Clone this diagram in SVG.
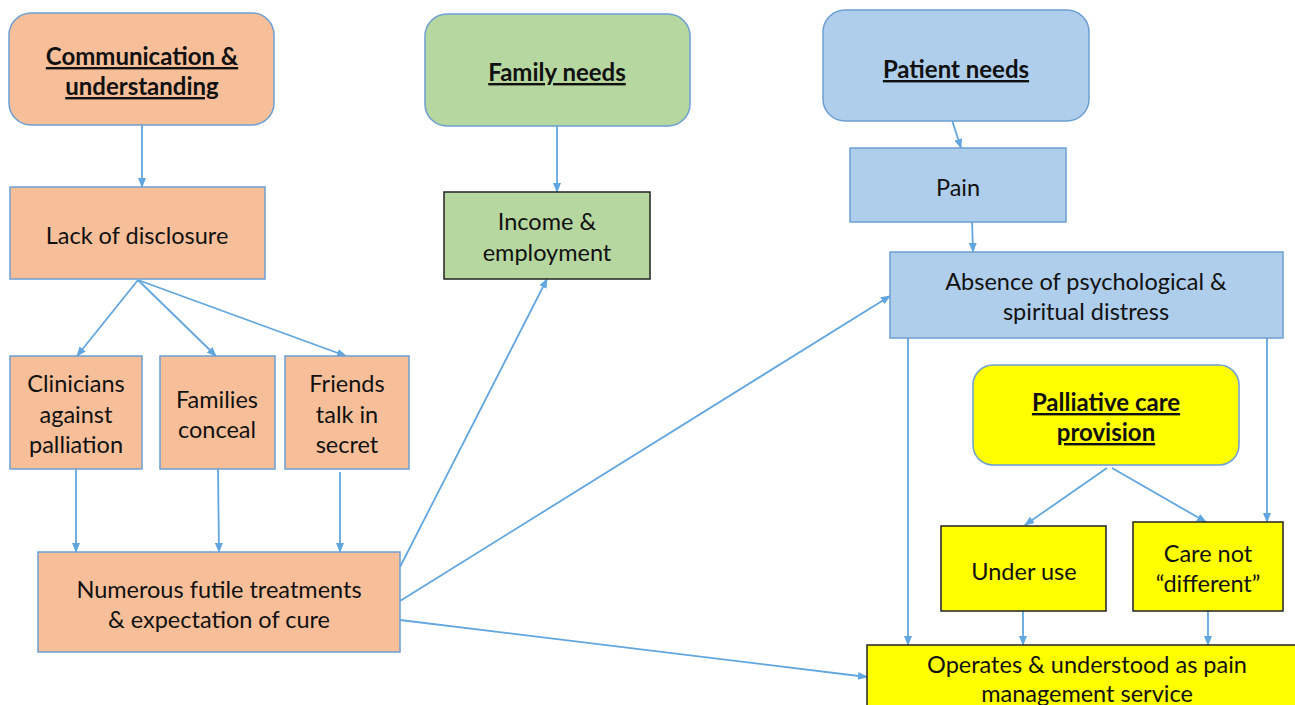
<svg xmlns="http://www.w3.org/2000/svg" width="1295" height="705" viewBox="0 0 1295 705">
<defs>
<marker id="ah" markerWidth="10" markerHeight="8" refX="9" refY="4" orient="auto" markerUnits="userSpaceOnUse">
<path d="M0,0 L10,4 L0,8 Z" fill="#62A6DF"/>
</marker>
<style>
.t{font-family:Lato,"Open Sans","Liberation Sans",sans-serif;font-size:23.5px;fill:#111;text-anchor:middle}
.h{font-weight:bold;text-decoration:underline;font-size:24px}
.or{fill:#F7BF99;stroke:#6E9FD2;stroke-width:1.5}
.gr{fill:#B7D7A0}
.bl{fill:#AFCEEB;stroke:#6E9FD2;stroke-width:1.5}
.ye{fill:#FFFF00}
.dk{stroke:#222;stroke-width:1.5}
.bs{stroke:#6E9FD2;stroke-width:1.5}
.c{stroke:#62A6DF;stroke-width:1.8;fill:none;marker-end:url(#ah)}
</style>
</defs>
<rect width="1295" height="705" fill="#fff"/>
<g id="connectors">
<line class="c" x1="142" y1="125" x2="142" y2="187"/>
<line class="c" x1="138" y1="280" x2="77" y2="356"/>
<line class="c" x1="138" y1="280" x2="216" y2="356"/>
<line class="c" x1="138" y1="280" x2="346" y2="356"/>
<line class="c" x1="76" y1="469" x2="76" y2="552"/>
<line class="c" x1="218" y1="469" x2="219" y2="552"/>
<line class="c" x1="340" y1="472" x2="340" y2="552"/>
<line class="c" x1="557" y1="126" x2="557" y2="192"/>
<line class="c" x1="400" y1="567" x2="547" y2="279"/>
<line class="c" x1="951" y1="117" x2="961" y2="148"/>
<line class="c" x1="972" y1="220" x2="973" y2="252"/>
<line class="c" x1="400" y1="601" x2="890" y2="296"/>
<line class="c" x1="400" y1="620" x2="867" y2="677"/>
<line class="c" x1="908" y1="338" x2="908" y2="645"/>
<line class="c" x1="1267" y1="338" x2="1267" y2="522"/>
<line class="c" x1="1107" y1="468" x2="1025" y2="525"/>
<line class="c" x1="1112" y1="468" x2="1206" y2="522"/>
<line class="c" x1="1023" y1="611" x2="1023" y2="645"/>
<line class="c" x1="1208" y1="611" x2="1208" y2="645"/>
</g>
<g id="n-comm"><rect class="or" x="9" y="13" width="265" height="112" rx="22"/>
<text class="t h" x="142" y="65">Communication &amp;</text><text class="t h" x="142" y="95">understanding</text></g>
<g id="n-lack"><rect class="or" x="10" y="187" width="255" height="92"/>
<text class="t" x="137" y="244">Lack of disclosure</text></g>
<g id="n-clin"><rect class="or" x="10" y="356" width="132" height="113"/>
<text class="t" x="76" y="392">Clinicians</text><text class="t" x="76" y="423">against</text><text class="t" x="76" y="453">palliation</text></g>
<g id="n-fam"><rect class="or" x="160" y="356" width="115" height="113"/>
<text class="t" x="217" y="408">Families</text><text class="t" x="217" y="438">conceal</text></g>
<g id="n-friends"><rect class="or" x="285" y="356" width="124" height="113"/>
<text class="t" x="347" y="392">Friends</text><text class="t" x="347" y="423">talk in</text><text class="t" x="347" y="453">secret</text></g>
<g id="n-num"><rect class="or" x="38" y="552" width="362" height="100"/>
<text class="t" x="219" y="598">Numerous futile treatments</text><text class="t" x="219" y="628">&amp; expectation of cure</text></g>
<g id="n-family"><rect class="gr bs" x="425" y="14" width="265" height="112" rx="22"/>
<text class="t h" x="557" y="81">Family needs</text></g>
<g id="n-income"><rect class="gr dk" x="444" y="192" width="206" height="87"/>
<text class="t" x="547" y="230">Income &amp;</text><text class="t" x="547" y="261">employment</text></g>
<g id="n-patient"><rect class="bl" x="823" y="10" width="266" height="111" rx="22"/>
<text class="t h" x="956" y="78">Patient needs</text></g>
<g id="n-pain"><rect class="bl" x="850" y="148" width="216" height="74"/>
<text class="t" x="958" y="196">Pain</text></g>
<g id="n-absence"><rect class="bl" x="890" y="252" width="393" height="86"/>
<text class="t" x="1086" y="290">Absence of psychological &amp;</text><text class="t" x="1086" y="320">spiritual distress</text></g>
<g id="n-pall"><rect class="ye bs" x="973" y="365" width="266" height="100" rx="20"/>
<text class="t h" x="1106" y="411">Palliative care</text><text class="t h" x="1106" y="441">provision</text></g>
<g id="n-under"><rect class="ye dk" x="941" y="526" width="165" height="85"/>
<text class="t" x="1024" y="580">Under use</text></g>
<g id="n-care"><rect class="ye dk" x="1133" y="522" width="150" height="89"/>
<text class="t" x="1208" y="562">Care not</text><text class="t" x="1208" y="592">“different”</text></g>
<g id="n-operates"><rect class="ye dk" x="867" y="645" width="440" height="80"/>
<text class="t" x="1087" y="673">Operates &amp; understood as pain</text><text class="t" x="1087" y="702">management service</text></g>
</svg>
